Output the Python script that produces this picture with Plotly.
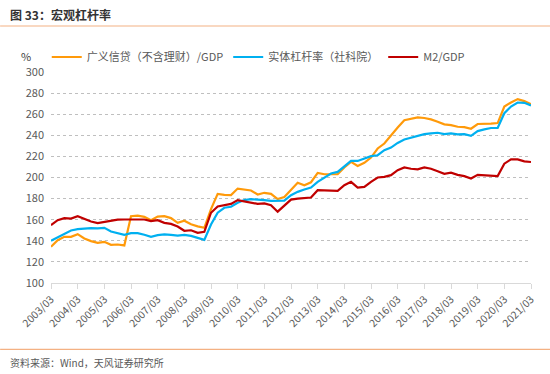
import plotly.graph_objects as go

# quarterly dates 2003/03 .. 2021/03
years = list(range(2003, 2022))
tick_labels = [f"{y}/03" for y in years]

credit_gdp = [134.3, 140.6, 143.8, 143.8, 146.3, 142.2, 139.7, 138.1, 139.0, 136.2,
              136.5, 135.6, 163.3, 163.9, 162.7, 159.5, 163.0, 163.3, 161.5, 157.0,
              159.0, 155.6, 153.7, 152.3, 170.0, 184.5, 183.6, 183.3, 189.5, 188.3,
              187.7, 183.9, 185.5, 184.5, 179.5, 181.5, 188.0, 195.0, 192.7, 195.5,
              204.4, 203.1, 203.1, 203.1, 209.5, 214.8, 211.0, 213.9, 218.9, 227.5,
              232.2, 240.1, 247.4, 254.3, 255.5, 257.0, 256.4, 255.1, 252.9, 250.4,
              249.7, 248.1, 247.8, 246.2, 250.7, 250.7, 251.0, 251.6, 267.3, 271.1,
              274.3, 272.4, 269.5]

real_leverage = [140.0, 143.1, 146.0, 149.8, 151.0, 151.7, 152.0, 151.7, 152.3, 148.8,
                 147.5, 145.7, 147.2, 147.2, 145.7, 143.8, 145.3, 146.0, 145.6, 145.0,
                 145.6, 144.6, 142.8, 140.9, 155.5, 166.6, 171.3, 172.3, 176.0, 178.6,
                 179.5, 179.2, 178.6, 177.9, 177.6, 178.0, 183.2, 186.4, 188.6, 190.5,
                 195.9, 200.0, 203.8, 205.3, 210.7, 215.7, 215.7, 218.0, 220.2, 221.1,
                 225.9, 228.4, 232.8, 236.0, 237.5, 239.2, 241.1, 241.8, 242.4, 241.1,
                 241.8, 240.8, 241.1, 239.5, 244.0, 245.6, 246.9, 246.9, 260.9, 267.3,
                 271.1, 270.8, 268.2]

m2_gdp = [154.8, 159.5, 161.4, 161.0, 163.3, 160.8, 158.3, 156.7, 158.0, 159.2,
          160.0, 160.2, 160.2, 160.5, 160.2, 158.6, 159.5, 157.0, 156.0, 153.5,
          149.5, 150.0, 147.5, 148.5, 166.6, 172.6, 173.5, 175.0, 178.6, 177.6,
          176.4, 175.0, 175.4, 173.8, 167.6, 173.5, 179.0, 180.0, 180.4, 181.0,
          188.0, 188.0, 187.3, 187.3, 192.7, 195.9, 190.5, 191.1, 195.9, 200.0,
          200.6, 202.2, 206.9, 209.5, 208.3, 207.7, 209.6, 208.3, 206.0, 203.5,
          204.5, 202.5, 201.3, 199.0, 202.5, 202.2, 201.6, 201.3, 213.1, 217.2,
          217.2, 215.3, 214.7]

series_names = ["广义信贷（不含理财）/GDP", "实体杠杆率（社科院）", "M2/GDP"]
series_colors = ["#FF9A0A", "#00B0F0", "#C00000"]

x = list(range(len(credit_gdp)))
tick_vals = [4 * k for k in range(len(years))]

FONT = "Noto Sans CJK SC"
GRAY = "#595959"

fig = go.Figure()
for name, vals, col in zip(series_names, [credit_gdp, real_leverage, m2_gdp], series_colors):
    fig.add_trace(go.Scatter(x=x, y=vals, mode="lines", name=name,
                             line=dict(color=col, width=2.2)))

fig.update_layout(
    width=550, height=374,
    margin=dict(l=51, r=19, t=72, b=91, autoexpand=False),
    paper_bgcolor="white", plot_bgcolor="white",
    font=dict(family=FONT, size=11, color=GRAY),
    showlegend=True,
    legend=dict(orientation="h", xref="container", yref="container",
                x=0.085, y=1 - 57 / 374, xanchor="left", yanchor="middle",
                font=dict(size=11, color=GRAY), itemwidth=30,
                bgcolor="rgba(0,0,0,0)", tracegroupgap=0),
    xaxis=dict(range=[0, len(x) - 1], tickmode="array", tickvals=tick_vals,
               ticktext=tick_labels, tickangle=-45, showgrid=False, zeroline=False,
               showline=True, linecolor="#D9D9D9", linewidth=1, automargin=False,
               ticks="outside", ticklen=5, tickcolor="#D9D9D9",
               tickfont=dict(size=10.5, color=GRAY)),
    yaxis=dict(range=[100, 300], dtick=20, showgrid=True, gridcolor="#BFBFBF",
               griddash="dot", gridwidth=1, zeroline=False, showline=False,
               automargin=False,
               tickfont=dict(size=11, color=GRAY), ticks="", ticklabelstandoff=6),
)

# title, separators, source
fig.add_annotation(text="图 33：宏观杠杆率", xref="paper", yref="paper",
                   x=-0.09, y=1.272, xanchor="left", yanchor="middle", showarrow=False,
                   font=dict(family=FONT, size=12, color="#333333", weight="bold"))
fig.add_shape(type="line", xref="paper", yref="paper", x0=-0.106, x1=1.04,
              y0=1.218, y1=1.218, line=dict(color="#F4B183", width=1.2))
fig.add_shape(type="line", xref="paper", yref="paper", x0=-0.106, x1=1.04,
              y0=-0.315, y1=-0.315, line=dict(color="#F4B183", width=1.2))
fig.add_annotation(text="资料来源：Wind，天风证券研究所", xref="paper", yref="paper",
                   x=-0.09, y=-0.375, xanchor="left", yanchor="middle", showarrow=False,
                   font=dict(family=FONT, size=10, color=GRAY))
fig.add_annotation(text="%", xref="paper", yref="paper", x=-0.052, y=1.075,
                   xanchor="center", yanchor="middle", showarrow=False,
                   font=dict(family=FONT, size=11, color="#404040"))

fig.write_html("out.html", config={"displayModeBar": False},
               post_script="document.body.style.margin='0px';document.body.style.padding='0px';")
